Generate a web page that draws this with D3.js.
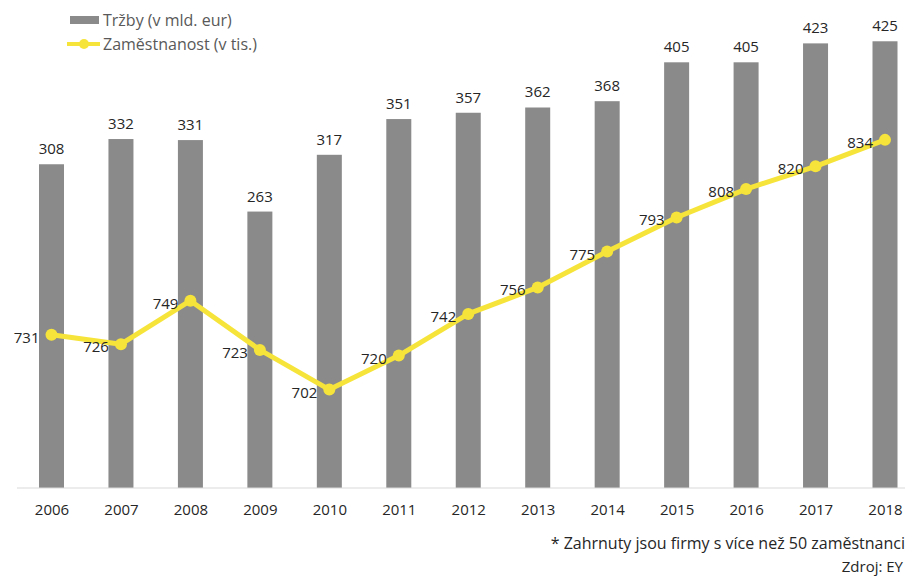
<!DOCTYPE html>
<html>
<head>
<meta charset="utf-8">
<script src="https://cdn.jsdelivr.net/npm/d3@7"></script>
<style>
  body { margin: 0; background: #fff; }
  text { font-family: "Open Sans", "DejaVu Sans", sans-serif; }
</style>
</head>
<body>
<div class="chart"></div>
<script>
// data ============================================= //
var years = ["2006", "2007", "2008", "2009", "2010", "2011", "2012",
  "2013", "2014", "2015", "2016", "2017", "2018"];
var trzby = [308, 332, 331, 263, 317, 351, 357, 362, 368, 405, 405, 423, 425];
var zamestnanost = [731, 726, 749, 723, 702, 720, 742, 756, 775, 793, 808, 820, 834];

var W = 909, H = 578;
var barColor = "#8a8a8a", lineColor = "#f6e43a";

var svg = d3.select(".chart")
  .append("svg")
  .attr("width", W)
  .attr("height", H);

// scales
var x = d3.scalePoint().domain(years).range([51.5, 885]);
var yBar = d3.scaleLinear().domain([0, 450]).range([488, 15]);
var yLine = d3.scaleLinear().domain([650, 900]).range([488, 15]);
var barW = 25;

var rows = years.map(function (d, i) {
  return { year: d, trzby: trzby[i], zam: zamestnanost[i] };
});

// bars
svg.append("g")
  .selectAll("rect")
  .data(rows)
  .enter()
  .append("rect")
  .attr("x", function (d) { return x(d.year) - barW / 2; })
  .attr("y", function (d) { return yBar(d.trzby); })
  .attr("width", barW)
  .attr("height", function (d) { return yBar(0) - yBar(d.trzby); })
  .attr("fill", barColor);

// bar labels
svg.append("g")
  .selectAll("text")
  .data(rows)
  .enter()
  .append("text")
  .attr("x", function (d) { return x(d.year); })
  .attr("y", function (d) { return yBar(d.trzby) - 10; })
  .attr("text-anchor", "middle")
  .attr("font-size", "15px")
  .attr("fill", "#262626")
  .text(function (d) { return d.trzby; });

// x axis
var xAxis = svg.append("g")
  .attr("transform", "translate(0," + yBar(0) + ")")
  .call(d3.axisBottom(x).tickSize(0).tickPadding(16));
xAxis.select(".domain").remove();
xAxis.append("line")
  .attr("x1", 17).attr("x2", 905)
  .attr("stroke", "#d9d9d9").attr("stroke-width", 1);
xAxis.selectAll(".tick text")
  .attr("font-family", "'Open Sans', sans-serif")
  .attr("font-size", "15px")
  .attr("fill", "#262626");

// line
var line = d3.line()
  .x(function (d) { return x(d.year); })
  .y(function (d) { return yLine(d.zam); });

svg.append("path")
  .datum(rows)
  .attr("d", line)
  .attr("fill", "none")
  .attr("stroke", lineColor)
  .attr("stroke-width", 5)
  .attr("stroke-linejoin", "round");

svg.append("g")
  .selectAll("circle")
  .data(rows)
  .enter()
  .append("circle")
  .attr("cx", function (d) { return x(d.year); })
  .attr("cy", function (d) { return yLine(d.zam); })
  .attr("r", 6)
  .attr("fill", lineColor);

// line labels, left of point
svg.append("g")
  .selectAll("text")
  .data(rows)
  .enter()
  .append("text")
  .attr("x", function (d) { return x(d.year) - 12; })
  .attr("y", function (d) { return yLine(d.zam) + 2; })
  .attr("text-anchor", "end")
  .attr("dominant-baseline", "central")
  .attr("font-size", "15px")
  .attr("fill", "#262626")
  .text(function (d) { return d.zam; });

// legend
var legend = svg.append("g");
legend.append("rect")
  .attr("x", 70).attr("y", 16).attr("width", 29).attr("height", 8)
  .attr("fill", barColor);
legend.append("text")
  .attr("x", 103).attr("y", 26)
  .attr("font-size", "16px").attr("fill", "#595959")
  .text("Tržby (v mld. eur)");
legend.append("line")
  .attr("x1", 67).attr("x2", 100).attr("y1", 44).attr("y2", 44)
  .attr("stroke", lineColor).attr("stroke-width", 4);
legend.append("circle")
  .attr("cx", 84).attr("cy", 44).attr("r", 5)
  .attr("fill", lineColor);
legend.append("text")
  .attr("x", 103).attr("y", 50)
  .attr("font-size", "16px").attr("fill", "#595959")
  .text("Zaměstnanost (v tis.)");

// notes
svg.append("text")
  .attr("x", 905).attr("y", 549)
  .attr("text-anchor", "end")
  .attr("font-size", "16px").attr("fill", "#262626")
  .text("* Zahrnuty jsou firmy s více než 50 zaměstnanci");
svg.append("text")
  .attr("x", 903).attr("y", 572)
  .attr("text-anchor", "end")
  .attr("font-size", "15px").attr("fill", "#262626")
  .text("Zdroj: EY");
</script>
</body>
</html>
